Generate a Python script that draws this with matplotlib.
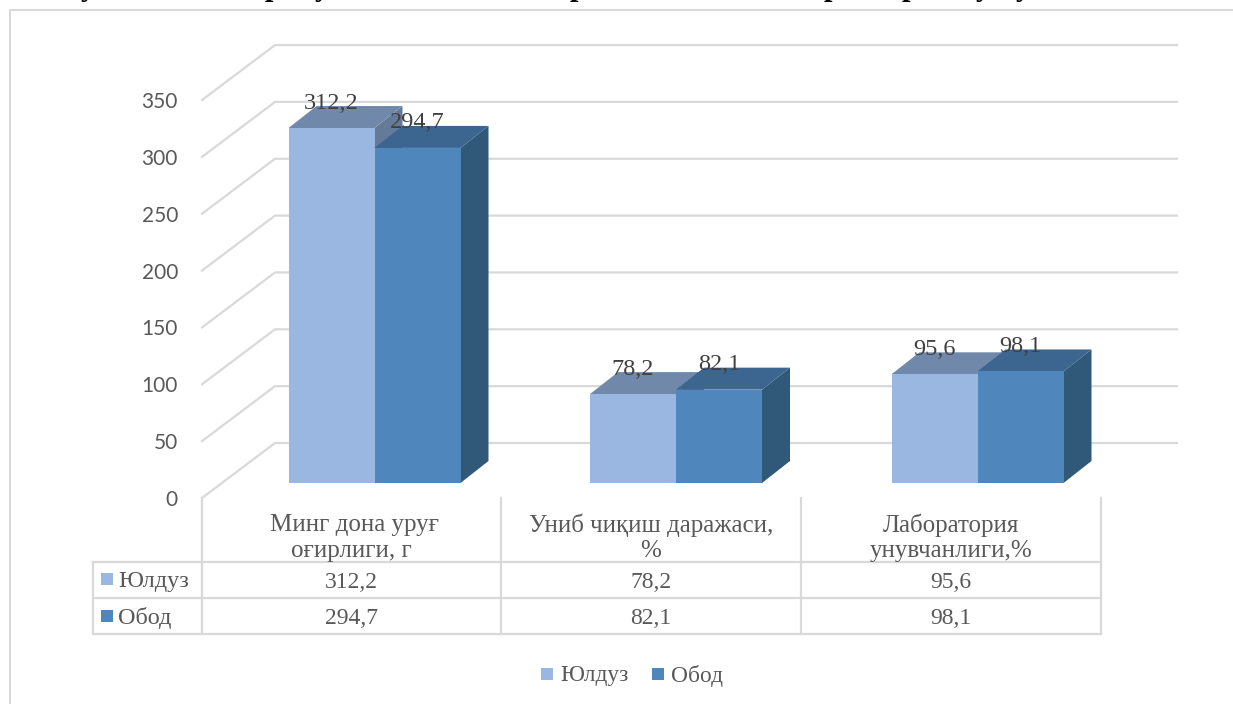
import matplotlib
matplotlib.use("Agg")
import matplotlib.pyplot as plt
from matplotlib.patches import Polygon, Rectangle

# dados do grafico
categories = ["Минг дона уруғ\nоғирлиги, г", "Униб чиқиш даражаси,\n%", "Лаборатория\nунувчанлиги,%"]
series_names = ["Юлдуз", "Обод"]
yulduz = [312.2, 78.2, 95.6]
obod = [294.7, 82.1, 98.1]
y_ticks = [0, 50, 100, 150, 200, 250, 300, 350]

# only the feet of the title letters are left in the cropped picture
title_bits = ["у", "р", "у", "р", "р", "р", "у", "у"]
title_bit_x = [88, 273, 322, 578, 832, 910, 983, 1023]

serif = "Liberation Serif"
GREY = "#D9D9D9"
TEXT = "#595959"
LIGHT = ("#99B7E0", "#7089AA", "#647A99")
MID = ("#4F86BC", "#3C668F", "#305878")

W, H = 1233, 704
PX_X = 301.5   # px per category
PX_Y = 1.137   # px per unit of value
X0, Y0 = 374.5, 483  # px of first group centre and of bar base


def fmt(v):
    return f"{v:.1f}".replace(".", ",")


def to_x(px):
    return (px - X0) / PX_X


fig = plt.figure(figsize=(W / 100, H / 100), dpi=100, facecolor="white")

# frame, table and legend, in picture pixels
ax2 = fig.add_axes([0, 0, 1, 1])
ax2.set_xlim(0, W)
ax2.set_ylim(H, 0)
ax2.axis("off")

# scaled axes for the bars and the grid
ax = fig.add_axes([0, 0, 1, 1])
ax.set_xlim(to_x(0), to_x(W))
ax.set_ylim((Y0 - H) / PX_Y, Y0 / PX_Y)
ax.axis("off")
ax.patch.set_alpha(0)

# outer frame
ax2.plot([10, 10, W], [H, 10, 10], color=GREY, lw=1.5, clip_on=False)

for ch, x in zip(title_bits, title_bit_x):
    ax2.text(x, -5, ch, family=serif, fontsize=22, fontweight="bold", color="black",
             ha="center", va="baseline", clip_on=True)

# grid: floor offset of front edge and back wall in value units
front = -15 / PX_Y
back = 40 / PX_Y
for v in y_ticks:
    ax.plot([to_x(202), to_x(275), to_x(1177)], [v + front, v + back, v + back],
            color=GREY, lw=1.6, solid_joinstyle="miter", zorder=1)
    ax.text(to_x(178), v + front - 2 / PX_Y, str(v), family="Lato", fontsize=15, color=TEXT,
            ha="right", va="center")

# bars
bar_w = 86 / PX_X
dx = 28 / PX_X
dy = 22 / PX_Y


def bar3d(x, v, colors, z):
    ax.add_patch(Polygon([(x + bar_w, 0), (x + bar_w + dx, dy), (x + bar_w + dx, v + dy), (x + bar_w, v)],
                         fc=colors[2], ec="none", zorder=z))
    ax.add_patch(Polygon([(x, v), (x + dx, v + dy), (x + bar_w + dx, v + dy), (x + bar_w, v)],
                         fc=colors[1], ec="none", zorder=z))
    ax.add_patch(Rectangle((x, 0), bar_w, v, fc=colors[0], ec="none", zorder=z))


for i in range(len(categories)):
    bar3d(i - bar_w, yulduz[i], LIGHT, 3)
    bar3d(i, obod[i], MID, 4)

for i in range(len(categories)):
    ax.text(i - bar_w / 2, yulduz[i] + 25 / PX_Y, fmt(yulduz[i]), family=serif, fontsize=17.5,
            color="#404040", ha="center", va="center", zorder=6)
    ax.text(i + bar_w / 2, obod[i] + 25 / PX_Y, fmt(obod[i]), family=serif, fontsize=17.5,
            color="#404040", ha="center", va="center", zorder=6)

# data table
col_x = [202, 501, 801, 1101]
row_y = [562, 598, 634]
for x in col_x:
    ax2.plot([x, x], [498, row_y[-1]], color=GREY, lw=1.6)
ax2.plot([93, 93], [row_y[0], row_y[-1]], color=GREY, lw=1.6)
for y in row_y:
    ax2.plot([93, col_x[-1]], [y, y], color=GREY, lw=1.6)

for i, cat in enumerate(categories):
    cx = (col_x[i] + col_x[i + 1]) / 2
    for k, line in enumerate(cat.split("\n")):
        ax2.text(cx + (3 if k == 0 and i == 0 else 0), 525 + 26 * k, line, family=serif, fontsize=18,
                 color=TEXT, ha="center", va="center")
    ax2.text(cx, 582, fmt(yulduz[i]), family=serif, fontsize=17, color=TEXT, ha="center", va="center")
    ax2.text(cx, 619, fmt(obod[i]), family=serif, fontsize=17, color=TEXT, ha="center", va="center")

for name, colors, y in zip(series_names, (LIGHT, MID), (580, 617)):
    ax2.add_patch(Rectangle((101, y - 7), 12, 12, fc=colors[0], ec="none"))
    ax2.text(118, y + 1, name, family=serif, fontsize=17.5, color=TEXT, ha="left", va="center")

# legend
for name, colors, sq_x in zip(series_names, (LIGHT, MID), (541, 652)):
    ax2.add_patch(Rectangle((sq_x, 668), 12, 12, fc=colors[0], ec="none"))
    ax2.text(sq_x + 19, 676, name, family=serif, fontsize=16.8, color=TEXT, ha="left", va="center")

fig.savefig("out.png", dpi=100)
